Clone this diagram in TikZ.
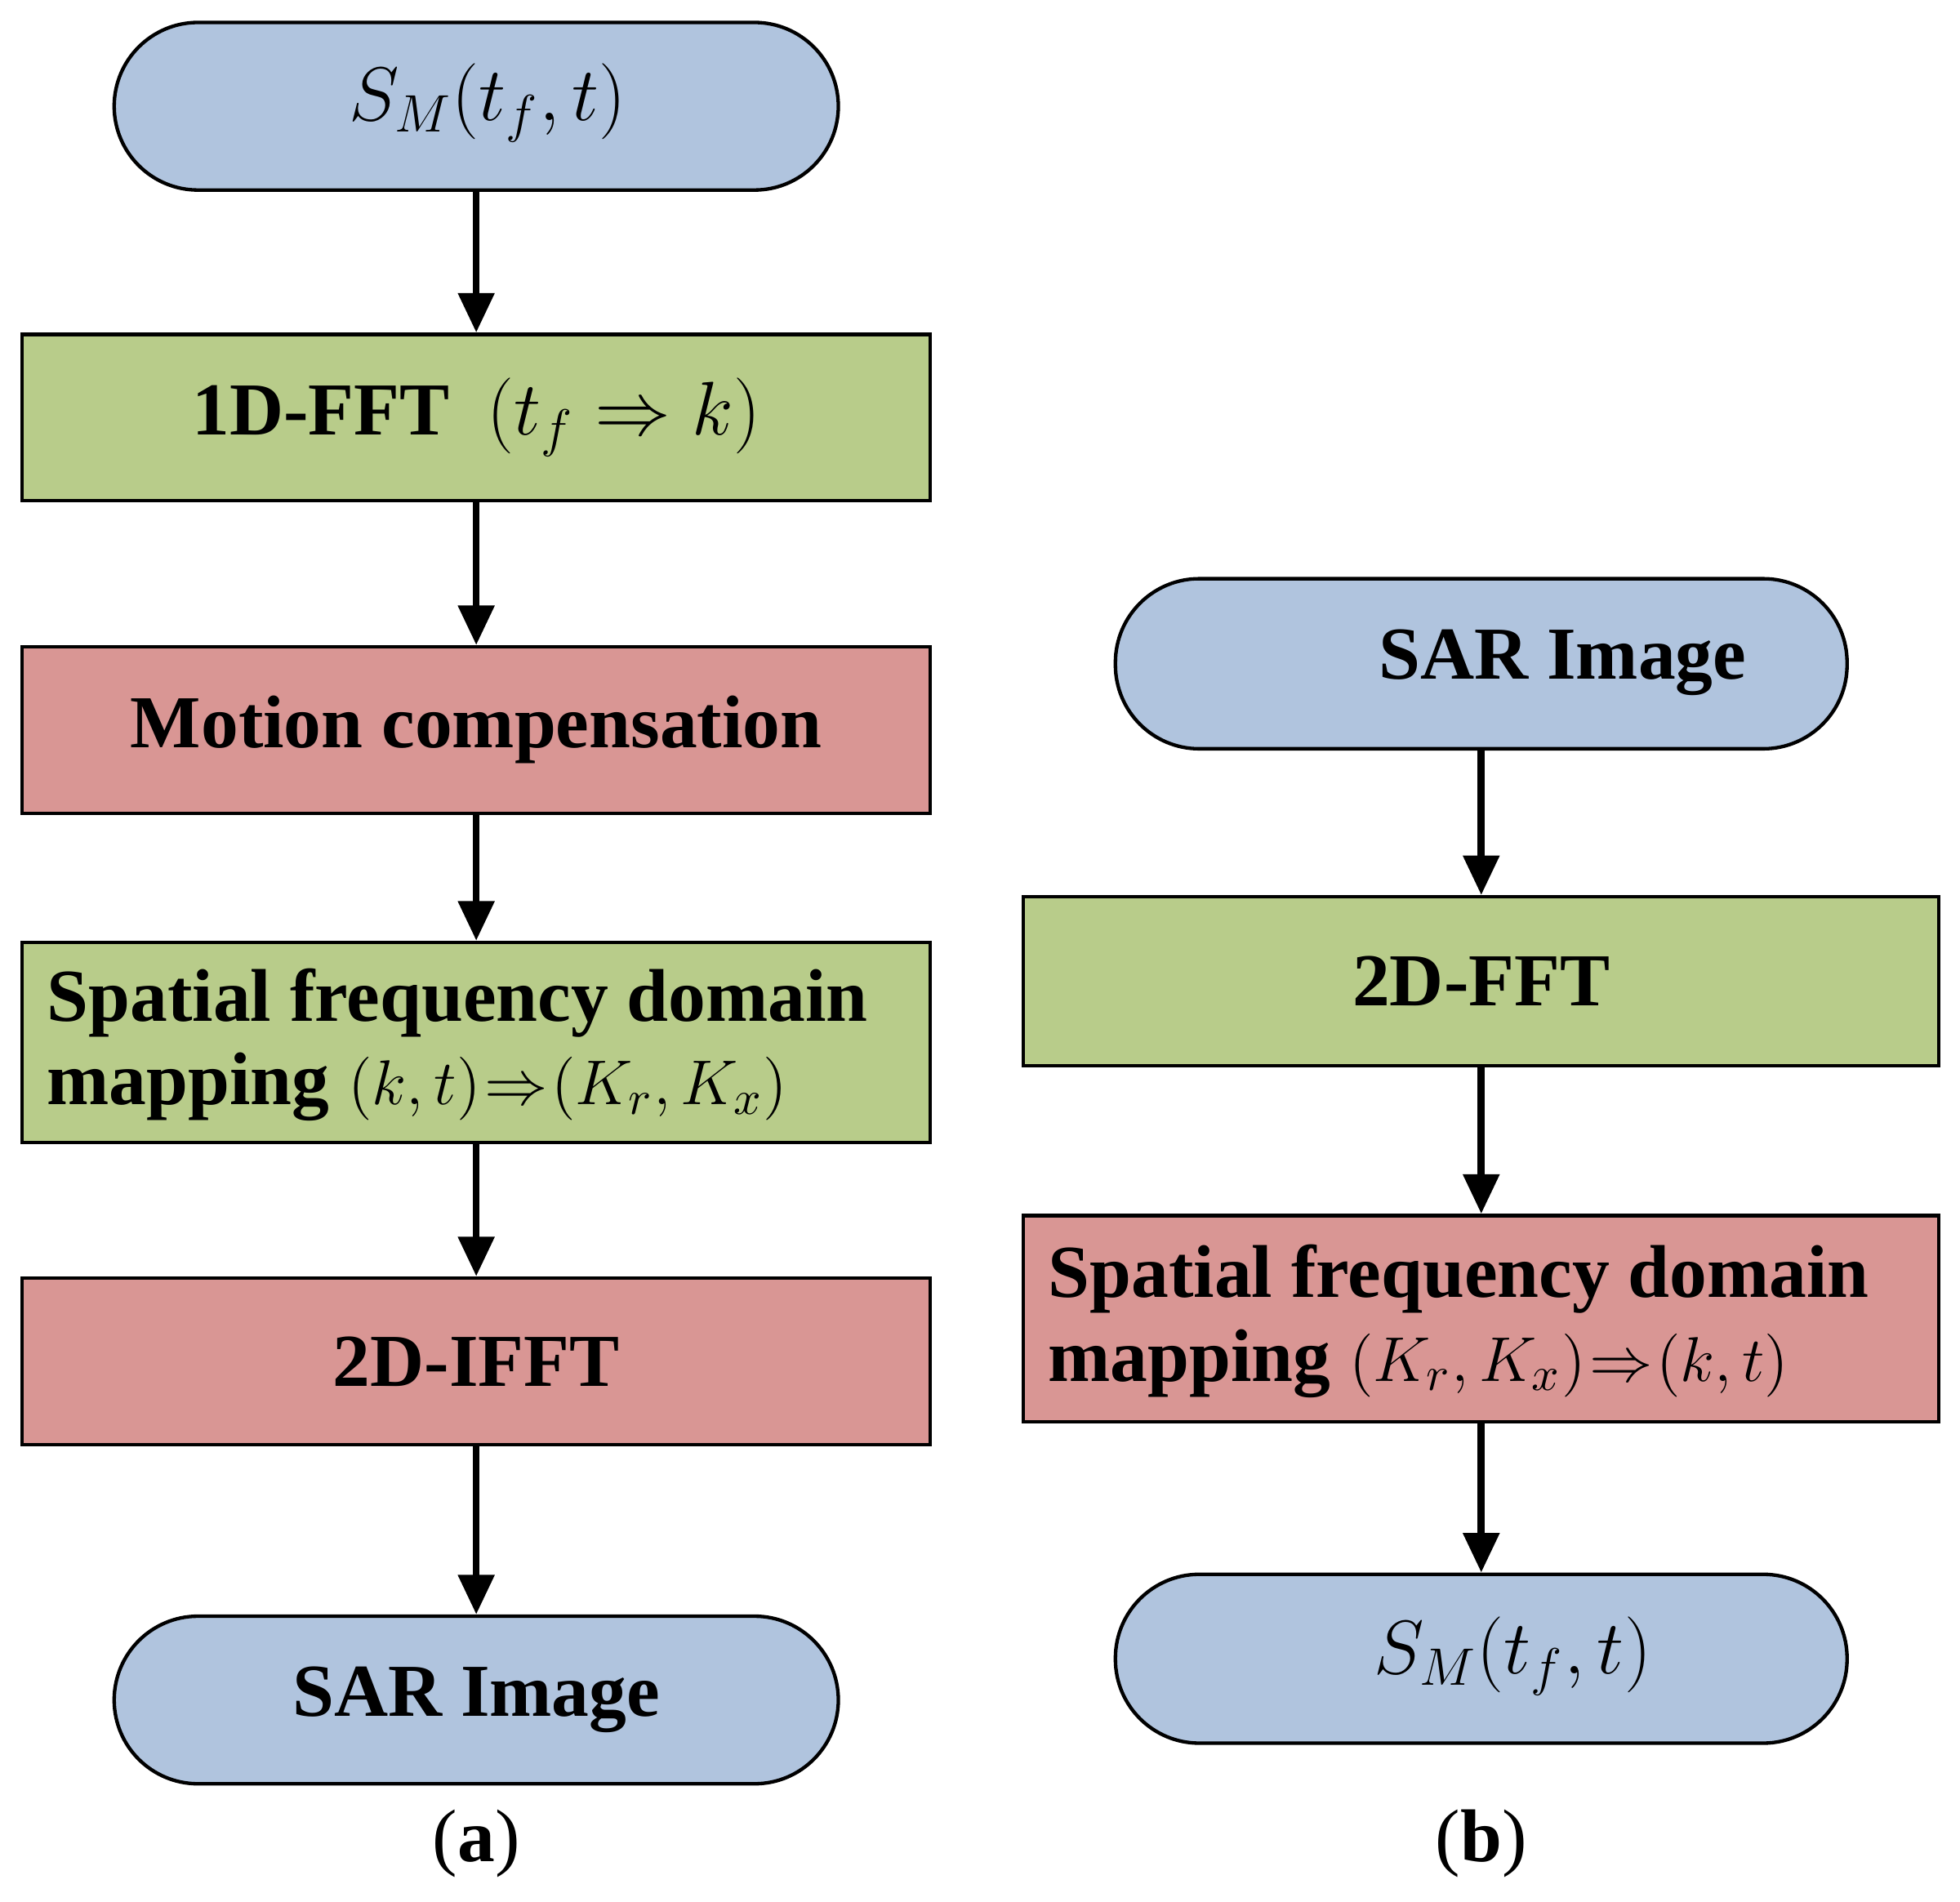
\documentclass[tikz,border=0pt]{standalone}
\usepackage{fontspec}
\setmainfont{Liberation Serif}
\usetikzlibrary{arrows.meta}
\definecolor{cblue}{RGB}{176,196,222}
\definecolor{cgreen}{RGB}{184,204,138}
\definecolor{cred}{RGB}{217,150,148}
\newcommand{\smath}[1]{{\fontsize{15}{19}\selectfont\thickmuskip=1mu\medmuskip=1mu$#1$}}
\begin{document}
\begin{tikzpicture}[x=0.01cm,y=-0.01cm,
  box/.style={draw=black,line width=0.8pt,minimum width=7.26cm,minimum height=1.33cm,inner sep=0pt,font=\fontsize{17}{20}\selectfont\bfseries},
  term/.style={draw=black,line width=0.8pt,rounded corners=0.67cm,minimum width=5.79cm,minimum height=1.34cm,inner sep=0pt,fill=cblue,font=\fontsize{17}{20}\selectfont\bfseries},
  arr/.style={line width=1.6pt,-{Triangle[length=9pt,width=8pt]}},
  lab/.style={font=\fontsize{17}{20}\selectfont},
  two/.style={align=left,anchor=west,inner sep=0pt,font=\fontsize{17}{19}\selectfont\bfseries}]
\useasboundingbox (0,0) rectangle (1568,1521);
% column a
\node[term] (a1) at (381,85) {};
\node[lab] at (390,82) {$S_M(t_f,t)$};
\node[box,fill=cgreen] (a2) at (381,334) {1D-FFT\ \ $\mathbf{}(t_f\Rightarrow k)$};
\node[box,fill=cred] (a3) at (381,584) {Motion compensation};
\node[box,fill=cgreen,minimum height=1.6cm] (a4) at (381,834) {};
\node[two] (a4t) at (37,836) {Spatial frequency domain\\mapping\ \smath{(k,t)\Rightarrow(K_r,K_x)}};
\node[box,fill=cred] (a5) at (381,1089) {2D-IFFT};
\node[term] (a6) at (381,1360) {SAR Image};
\node[lab] at (381,1475) {(\textbf{a})};
\draw[arr] (a1) -- (a2);
\draw[arr] (a2) -- (a3);
\draw[arr] (a3) -- (a4);
\draw[arr] (a4) -- (a5);
\draw[arr] (a5) -- (a6);
% column b
\node[term,minimum width=5.85cm,minimum height=1.36cm] (b1) at (1185,531) {};
\node[lab,font=\fontsize{17}{20}\selectfont\bfseries] at (1250,530) {SAR Image};
\node[box,fill=cgreen,minimum width=7.32cm,minimum height=1.35cm] (b2) at (1185,785) {2D-FFT};
\node[box,fill=cred,minimum width=7.32cm,minimum height=1.65cm] (b3) at (1185,1055) {};
\node[two] (b3t) at (838,1057) {Spatial frequency domain\\mapping\ \smath{(K_r,K_x)\Rightarrow(k,t)}};
\node[term,minimum width=5.85cm,minimum height=1.35cm] (b4) at (1185,1327) {};
\node[lab] at (1210,1325) {$S_M(t_f,t)$};
\node[lab] at (1185,1475) {(\textbf{b})};
\draw[arr] (b1) -- (b2);
\draw[arr] (b2) -- (b3);
\draw[arr] (b3) -- (b4);
\end{tikzpicture}
\end{document}
